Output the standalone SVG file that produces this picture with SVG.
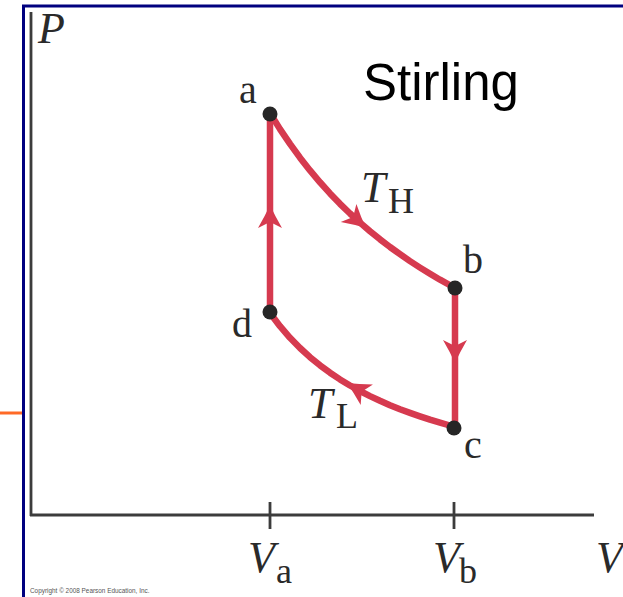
<svg xmlns="http://www.w3.org/2000/svg" width="623" height="597" viewBox="0 0 623 597">
<style>
.curve{fill:none;stroke:#d63a4f;stroke-width:6.5;stroke-linecap:butt;stroke-linejoin:round}
.ax{fill:none;stroke:#3c3c3c;stroke-width:2.8}
.lbl{font-family:"Liberation Serif","Times New Roman",serif;fill:#2a2a2a}
.it{font-style:italic}
.main{font-size:44px}
.sub{font-size:36px}
.pt{font-size:40px}
.dot{fill:#262626}
</style>
<defs>
<path id="ah" d="M0,0 Q-11,-5 -23,-12 L-17,0 L-23,12 Q-11,5 0,0Z" fill="#d63a4f"/>
</defs>
<rect x="23.5" y="6" width="640" height="640" fill="#ffffff" stroke="#00007f" stroke-width="3"/>
<line x1="0" y1="413" x2="22" y2="413" stroke="#ff6a26" stroke-width="3"/>
<g id="axes">
<line class="ax" x1="31" y1="12" x2="31" y2="516"/>
<line class="ax" x1="30" y1="515" x2="594" y2="515"/>
<line class="ax" x1="270" y1="502" x2="270" y2="529"/>
<line class="ax" x1="454" y1="502" x2="454" y2="529"/>
</g>
<g id="connectors">
<path id="edge-ab" class="curve" d="M270,113 L280,129.1 L290,143.9 L300,157.7 L310,170.4 L320,182.3 L330,193.4 L340,203.8 L350,213.5 L360,222.6 L370,231.2 L380,239.3 L390,247 L400,254.2 L410,261.1 L420,267.6 L430,273.8 L440,279.7 L455,288"/>
<path id="edge-bc" class="curve" d="M455,288 L455,427"/>
<path id="edge-cd" class="curve" d="M455,427 L440,422.7 L430,419.7 L420,416.4 L410,412.9 L400,409.2 L390,405.2 L380,400.8 L370,396.1 L360,391 L350,385.5 L340,379.4 L330,372.7 L320,365.3 L310,357.2 L300,348 L290,337.8 L280,326.2 L270,313"/>
<path id="edge-da" class="curve" d="M270,313 L270,113"/>
<use href="#ah" transform="translate(366,228) rotate(40.7)"/>
<use href="#ah" transform="translate(455,363) rotate(90)"/>
<use href="#ah" transform="translate(347,383) rotate(210.6)"/>
<use href="#ah" transform="translate(270,205) rotate(-90)"/>
</g>
<g id="node-a"><circle class="dot" cx="270" cy="114" r="7.5"/><text class="lbl pt" x="239" y="103">a</text></g>
<g id="node-b"><circle class="dot" cx="455" cy="288" r="7.5"/><text class="lbl pt" x="463" y="273">b</text></g>
<g id="node-c"><circle class="dot" cx="454" cy="428" r="7.5"/><text class="lbl pt" x="464" y="458">c</text></g>
<g id="node-d"><circle class="dot" cx="270" cy="312" r="7.5"/><text class="lbl pt" x="232" y="337">d</text></g>
<g id="labels">
<text class="lbl it main" x="38" y="43">P</text>
<text x="363" y="100" font-family="Liberation Sans, Arial, sans-serif" font-size="51" fill="#000">Stirling</text>
<text class="lbl it main" x="361" y="202">T</text>
<text class="lbl sub" x="388" y="213">H</text>
<text class="lbl it main" x="308" y="418">T</text>
<text class="lbl sub" x="336" y="428">L</text>
<text class="lbl it main" x="248" y="572">V</text>
<text class="lbl sub" x="276" y="583">a</text>
<text class="lbl it main" x="433" y="572">V</text>
<text class="lbl sub" x="459" y="583">b</text>
<text class="lbl it main" x="596" y="572">V</text>
<text x="30" y="593" font-family="Liberation Sans, Arial, sans-serif" font-size="6.4" fill="#555">Copyright © 2008 Pearson Education, Inc.</text>
</g>
</svg>
